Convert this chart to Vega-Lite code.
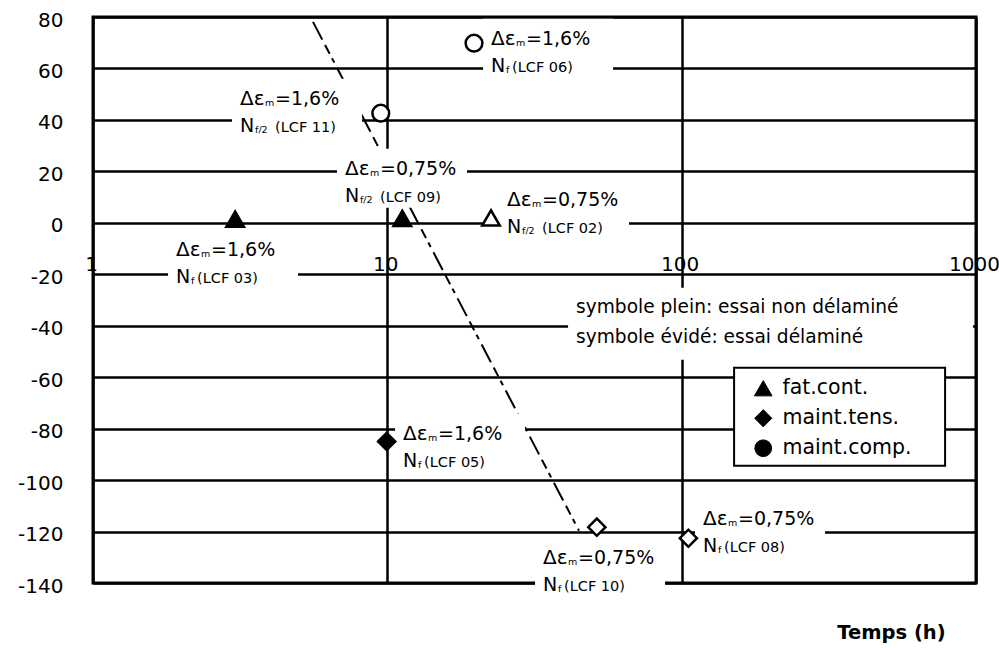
{
  "$schema": "https://vega.github.io/schema/vega-lite/v6.json",
  "width": 883,
  "height": 566,
  "autosize": {"type": "none"},
  "padding": {"left": 93, "top": 17, "right": 23, "bottom": 65},
  "background": "white",
  "config": {
    "view": {"stroke": "black", "strokeWidth": 3},
    "font": "DejaVu Sans"
  },
  "datasets": {
    "pts": [
      {"x": 3.04, "y": 1.4, "type": "fat.cont.", "etat": "plein"},
      {"x": 11.24, "y": 1.7, "type": "fat.cont.", "etat": "plein"},
      {"x": 22.5, "y": 1.9, "type": "fat.cont.", "etat": "évidé"},
      {"x": 19.7, "y": 69.8, "type": "maint.comp.", "etat": "évidé"},
      {"x": 9.5, "y": 42.6, "type": "maint.comp.", "etat": "évidé"},
      {"x": 9.95, "y": -85, "type": "maint.tens.", "etat": "plein"},
      {"x": 51.5, "y": -118.3, "type": "maint.tens.", "etat": "évidé"},
      {"x": 105.4, "y": -122.6, "type": "maint.tens.", "etat": "évidé"}
    ],
    "ligne": [
      {"x": 5.59, "y": 78.1},
      {"x": 44.8, "y": -119.7}
    ],
    "ann": [
      {"x": 3.159, "y": 45.87, "de": "=1,6%", "sub": "f/2", "lcf": "(LCF 11)"},
      {"x": 22.51, "y": 69.19, "de": "=1,6%", "sub": "f", "lcf": "(LCF 06)"},
      {"x": 7.18, "y": 18.66, "de": "=0,75%", "sub": "f/2", "lcf": "(LCF 09)"},
      {"x": 25.51, "y": 6.61, "de": "=0,75%", "sub": "f/2", "lcf": "(LCF 02)"},
      {"x": 1.915, "y": -12.83, "de": "=1,6%", "sub": "f", "lcf": "(LCF 03)"},
      {"x": 11.31, "y": -84.35, "de": "=1,6%", "sub": "f", "lcf": "(LCF 05)"},
      {"x": 33.81, "y": -132.5, "de": "=0,75%", "sub": "f", "lcf": "(LCF 10)"},
      {"x": 118.2, "y": -117.4, "de": "=0,75%", "sub": "f", "lcf": "(LCF 08)"}
    ],
    "note": [
      {"x": 43.77, "y": -34.98, "txt": "symbole plein: essai non délaminé"},
      {"x": 43.77, "y": -46.64, "txt": "symbole évidé: essai délaminé"}
    ],
    "cadre": [
      {"x": 150.7, "y": -56.36}
    ]
  },
  "encoding": {
    "x": {
      "field": "x",
      "type": "quantitative",
      "scale": {"type": "log", "domain": [1, 1000]},
      "axis": {
        "values": [1, 10, 100, 1000],
        "format": "d",
        "offset": -360,
        "domain": false,
        "ticks": false,
        "grid": true,
        "gridColor": "black",
        "gridWidth": 2.5,
        "gridOpacity": 1,
        "labelFont": "DejaVu Sans",
        "labelFontSize": 20,
        "labelColor": "black",
        "labelPadding": 31,
        "labelOffset": -2,
        "labelFlush": false,
        "labelOverlap": false,
        "title": "Temps (h)",
        "titleFont": "DejaVu Sans",
        "titleFontSize": 19.5,
        "titleFontWeight": "bold",
        "titleColor": "black",
        "titleX": 798,
        "titleY": 415,
        "titleAlign": "center",
        "titleBaseline": "alphabetic",
        "titleAnchor": null
      }
    },
    "y": {
      "field": "y",
      "type": "quantitative",
      "scale": {"domain": [-140, 80], "nice": false, "zero": false},
      "axis": {
        "values": [-140, -120, -100, -80, -60, -40, -20, 0, 20, 40, 60, 80],
        "labelExpr": "datum.value < 0 ? '-' + abs(datum.value) : '' + datum.value",
        "title": null,
        "domain": false,
        "ticks": false,
        "grid": true,
        "gridColor": "black",
        "gridWidth": 2.5,
        "gridOpacity": 1,
        "labelFont": "DejaVu Sans",
        "labelFontSize": 20,
        "labelColor": "black",
        "labelPadding": 30,
        "labelOffset": 3,
        "labelBaseline": "middle",
        "labelFlush": false,
        "labelOverlap": false
      }
    }
  },
  "layer": [
    {
      "data": {"name": "ligne"},
      "mark": {"type": "line", "color": "black", "strokeWidth": 2, "strokeDash": [20, 6, 10, 5, 5, 6]},
      "encoding": {}
    },
    {
      "data": {"name": "ann"},
      "mark": {"type": "point", "filled": true, "fill": "white", "strokeWidth": 0, "opacity": 1, "size": 16900,
        "shape": "M-0.123,-0.4L1.877,-0.4L1.877,0.508L-0.123,0.508Z"}
    },
    {
      "data": {"name": "note"},
      "transform": [{"filter": "datum.y > -40"}],
      "mark": {"type": "point", "filled": true, "fill": "white", "strokeWidth": 0, "opacity": 1, "size": 160000,
        "shape": "M-0.04,-0.125L1.985,-0.125L1.985,0.235L-0.04,0.235Z"}
    },
    {
      "data": {"name": "cadre"},
      "mark": {"type": "point", "filled": true, "fill": "white", "stroke": "black", "strokeWidth": 2, "opacity": 1, "size": 44521,
        "shape": "M0,0L2,0L2,0.929L0,0.929Z"}
    },
    {
      "data": {"name": "ann"},
      "mark": {"type": "text", "text": "Δε", "align": "left", "baseline": "alphabetic", "font": "DejaVu Sans", "fontSize": 20, "color": "black"}
    },
    {
      "data": {"name": "ann"},
      "mark": {"type": "text", "text": "m", "align": "left", "baseline": "alphabetic", "font": "DejaVu Sans", "fontSize": 9.5, "dx": 25, "dy": 1, "color": "black"}
    },
    {
      "data": {"name": "ann"},
      "mark": {"type": "text", "align": "left", "baseline": "alphabetic", "font": "DejaVu Sans", "fontSize": 19, "dx": 35, "color": "black"},
      "encoding": {"text": {"field": "de"}}
    },
    {
      "data": {"name": "ann"},
      "mark": {"type": "text", "text": "N", "align": "left", "baseline": "alphabetic", "font": "DejaVu Sans", "fontSize": 19, "dy": 27, "color": "black"}
    },
    {
      "data": {"name": "ann"},
      "mark": {"type": "text", "align": "left", "baseline": "alphabetic", "font": "DejaVu Sans", "fontSize": 9.5, "dx": 15, "dy": 28, "color": "black"},
      "encoding": {"text": {"field": "sub"}}
    },
    {
      "data": {"name": "ann"},
      "transform": [{"filter": "datum.sub == 'f'"}],
      "mark": {"type": "text", "align": "left", "baseline": "alphabetic", "font": "DejaVu Sans", "fontSize": 14.5, "dx": 21, "dy": 27, "color": "black"},
      "encoding": {"text": {"field": "lcf"}}
    },
    {
      "data": {"name": "ann"},
      "transform": [{"filter": "datum.sub == 'f/2'"}],
      "mark": {"type": "text", "align": "left", "baseline": "alphabetic", "font": "DejaVu Sans", "fontSize": 14.5, "dx": 35, "dy": 27, "color": "black"},
      "encoding": {"text": {"field": "lcf"}}
    },
    {
      "data": {"name": "note"},
      "mark": {"type": "text", "align": "left", "baseline": "alphabetic", "font": "DejaVu Sans", "fontSize": 18.6, "color": "black"},
      "encoding": {"text": {"field": "txt"}}
    },
    {
      "data": {"name": "pts"},
      "mark": {"type": "point", "filled": true, "stroke": "black", "strokeWidth": 2.5, "opacity": 1},
      "encoding": {
        "shape": {
          "field": "type",
          "type": "nominal",
          "scale": {"domain": ["fat.cont.", "maint.tens.", "maint.comp."], "range": ["triangle-up", "diamond", "circle"]},
          "legend": {
            "title": null,
            "orient": "none",
            "legendX": 641,
            "legendY": 351,
            "padding": 10,
            "labelFont": "DejaVu Sans",
            "labelFontSize": 20.5,
            "labelColor": "black",
            "labelLimit": 400,
            "symbolOffset": 9,
            "labelOffset": 9,
            "rowPadding": 8,
            "symbolFillColor": "black",
            "symbolStrokeColor": "black",
            "symbolStrokeWidth": 1
          }
        },
        "size": {
          "field": "type",
          "type": "nominal",
          "scale": {"domain": ["fat.cont.", "maint.tens.", "maint.comp."], "range": [310, 280, 150]},
          "legend": {
            "title": null,
            "orient": "none",
            "legendX": 641,
            "legendY": 351,
            "padding": 10,
            "labelFont": "DejaVu Sans",
            "labelFontSize": 20.5,
            "labelColor": "black",
            "labelLimit": 400,
            "symbolOffset": 9,
            "labelOffset": 9,
            "rowPadding": 8,
            "symbolFillColor": "black",
            "symbolStrokeColor": "black",
            "symbolStrokeWidth": 1
          }
        },
        "fill": {
          "field": "etat",
          "type": "nominal",
          "scale": {"domain": ["plein", "évidé"], "range": ["black", "white"]},
          "legend": null
        }
      }
    }
  ]
}
